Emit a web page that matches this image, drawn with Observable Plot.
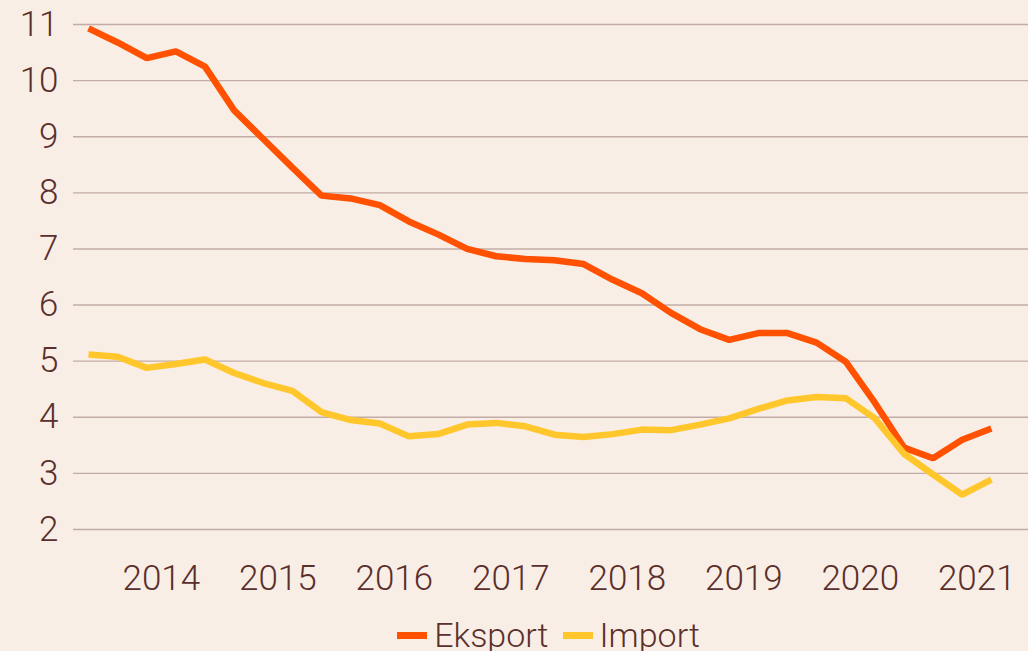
<!DOCTYPE html>
<html>
<head>
<meta charset="utf-8">
<script src="https://cdn.jsdelivr.net/npm/d3@7"></script>
<script src="https://cdn.jsdelivr.net/npm/@observablehq/plot@0.6"></script>
<style>
  html, body { margin: 0; padding: 0; background: #f9eee5; overflow: hidden; }
  body { width: 1028px; height: 651px; font-family: Roboto, "Noto Sans", sans-serif; font-weight: 300; color: #5b2f2c; }
  #legend { display: flex; justify-content: center; align-items: center; padding-left: 69px; gap: 14px; font-size: 34px; line-height: 40px; height: 40px; margin-top: 5px; }
  .item { display: flex; align-items: center; gap: 7px; }
  .sw { width: 30px; height: 7px; display: inline-block; }
</style>
</head>
<body>
<div id="chart"></div>
<div id="legend"></div>
<script>
// Quarterly periods 2013 Q4 – 2021 Q3
const quarters = [
  "2013Q4",
  "2014Q1","2014Q2","2014Q3","2014Q4",
  "2015Q1","2015Q2","2015Q3","2015Q4",
  "2016Q1","2016Q2","2016Q3","2016Q4",
  "2017Q1","2017Q2","2017Q3","2017Q4",
  "2018Q1","2018Q2","2018Q3","2018Q4",
  "2019Q1","2019Q2","2019Q3","2019Q4",
  "2020Q1","2020Q2","2020Q3","2020Q4",
  "2021Q1","2021Q2","2021Q3"
];
const eksport = [
  10.93,
  10.68, 10.40, 10.52, 10.25,
  9.47, 8.96, 8.45, 7.95,
  7.90, 7.78, 7.49, 7.26,
  7.00, 6.87, 6.82, 6.80,
  6.73, 6.45, 6.21, 5.86,
  5.57, 5.38, 5.50, 5.50,
  5.33, 4.99, 4.26, 3.46,
  3.27, 3.60, 3.80
];
const importValues = [
  5.12,
  5.08, 4.88, 4.95, 5.03,
  4.79, 4.61, 4.47, 4.09,
  3.95, 3.89, 3.66, 3.70,
  3.87, 3.90, 3.84, 3.69,
  3.65, 3.70, 3.78, 3.77,
  3.87, 3.98, 4.15, 4.30,
  4.36, 4.34, 3.98, 3.35,
  2.98, 2.62, 2.89
];
const seriesNames = ["Eksport", "Import"];
const seriesColors = ["#ff5100", "#ffc72c"];
const yearTicks = [2014, 2015, 2016, 2017, 2018, 2019, 2020, 2021];
const yTicks = [2, 3, 4, 5, 6, 7, 8, 9, 10, 11];

// decimal year at the middle of each quarter
const qToT = q => +q.slice(0, 4) + (+q.slice(5) - 0.5) / 4;
const rows = [];
quarters.forEach((q, i) => {
  rows.push({t: qToT(q), v: eksport[i], s: seriesNames[0]});
});
quarters.forEach((q, i) => {
  rows.push({t: qToT(q), v: importValues[i], s: seriesNames[1]});
});

const chart = Plot.plot({
  width: 1028,
  height: 610,
  marginLeft: 73,
  marginRight: 0,
  marginTop: 24,
  marginBottom: 81,
  style: {background: "transparent", fontFamily: "Roboto, 'Noto Sans', sans-serif", fontWeight: 300, fontSize: "35px", color: "#5b2f2c", overflow: "visible"},
  x: {domain: [2013.746, 2021.944]},
  y: {domain: [2, 11]},
  color: {domain: seriesNames, range: seriesColors},
  marks: [
    Plot.ruleY(yTicks, {stroke: "#c4aca6", strokeWidth: 1.4}),
    Plot.axisY({ticks: yTicks, tickSize: 0, tickPadding: 15, label: null, fontSize: 35, fill: "#5b2f2c"}),
    Plot.axisX({ticks: yearTicks.map(y => y + 0.5), tickFormat: d => String(Math.floor(d)), tickSize: 0, tickPadding: 36, label: null, fontSize: 35, fill: "#5b2f2c"}),
    Plot.line(rows, {x: "t", y: "v", z: "s", stroke: "s", strokeWidth: 6.5, strokeLinejoin: "miter", strokeLinecap: "butt"})
  ]
});
document.getElementById("chart").appendChild(chart);

const legend = document.getElementById("legend");
seriesNames.forEach((name, i) => {
  const it = document.createElement("div");
  it.className = "item";
  const sw = document.createElement("span");
  sw.className = "sw";
  sw.style.background = seriesColors[i];
  const tx = document.createElement("span");
  tx.textContent = name;
  it.appendChild(sw);
  it.appendChild(tx);
  legend.appendChild(it);
});
</script>
</body>
</html>
